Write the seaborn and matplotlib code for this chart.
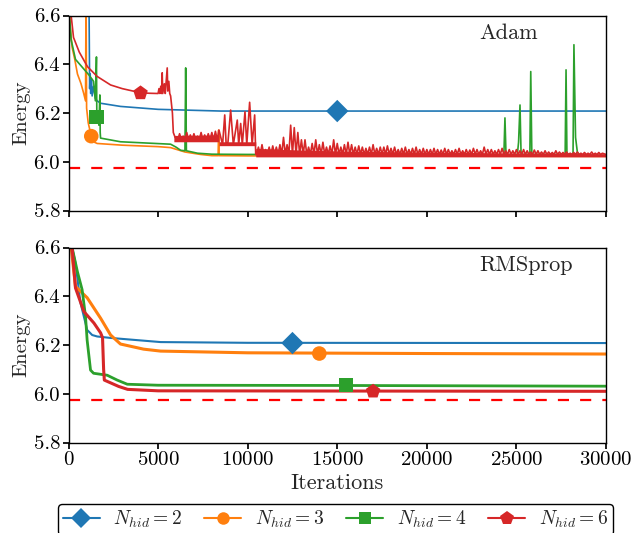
import numpy as np
import pandas as pd
import matplotlib
matplotlib.use("Agg")
import matplotlib.pyplot as plt
from matplotlib.lines import Line2D
import seaborn as sns

# ---------------- data ----------------
labels = [r"$N_{hid} = 2$", r"$N_{hid} = 3$", r"$N_{hid} = 4$", r"$N_{hid} = 6$"]
colors = ["#1f77b4", "#ff7f0e", "#2ca02c", "#d62728"]
markers = ["D", "o", "s", "p"]
exact_energy = 5.975

# Adam
adam_blue_iter = [0, 1100, 1150, 1180, 1210, 1240, 1280, 1320, 1400, 1500, 1600, 1790, 2900, 5000, 8500, 12000, 20000, 30000]
adam_blue_energy = [7.0, 6.9, 6.6, 6.30, 6.36, 6.28, 6.34, 6.27, 6.31, 6.26, 6.25, 6.24, 6.227, 6.215, 6.208, 6.208, 6.208, 6.208]

adam_orange_iter = [0, 100, 200, 350, 500, 700, 850, 950, 980, 1010, 1100, 1270, 1450, 1600, 3000, 5000, 5700, 6500, 7370, 8000, 8350, 8380, 8410, 10000, 20000, 30000]
adam_orange_energy = [6.7, 6.55, 6.47, 6.42, 6.36, 6.32, 6.28, 6.25, 6.7, 6.22, 6.16, 6.105, 6.08, 6.075, 6.068, 6.062, 6.058, 6.04, 6.03, 6.025, 6.025, 6.13, 6.025, 6.024, 6.023, 6.022]

adam_green_iter = [0, 150, 390, 1130, 1400, 1500, 1560, 1580, 1620, 1700, 1750, 1770, 1790, 2900, 5700, 6000, 6260, 6500, 6540, 6580, 7200, 8000, 10000,
                   24300, 24360, 24420, 25050, 25120, 25200, 25260, 25750, 25800, 25860, 27720, 27770, 27820, 28160, 28210, 28300, 28400, 28500, 30000]
adam_green_energy = [6.65, 6.5, 6.42, 6.357, 6.33, 6.25, 6.43, 6.20, 6.18, 6.15, 6.274, 6.12, 6.097, 6.082, 6.072, 6.06, 6.047, 6.045, 6.385, 6.045, 6.035, 6.031, 6.03,
                     6.028, 6.18, 6.028, 6.028, 6.08, 6.233, 6.03, 6.03, 6.37, 6.03, 6.03, 6.377, 6.03, 6.03, 6.48, 6.10, 6.04, 6.028, 6.025]

adam_red_iter = [0, 150, 280, 600, 1060, 1600, 2350, 3000, 4020, 4500, 4970,
                 5000, 5050, 5100, 5150, 5200, 5230, 5260, 5350, 5400, 5510, 5540, 5600, 5650, 5700,
                 5800, 5850, 5950,
                 6100, 6200, 6300, 6400, 6500, 6600, 6700, 6800, 6900, 7000, 7100, 7200, 7300, 7400,
                 7500, 7600, 7700, 7800, 7900, 8000, 8100, 8200, 8300, 8400,
                 8600, 8720, 8800, 8900, 9050, 9200, 9420, 9500, 9610, 9700, 9850, 9950, 10110, 10250, 10390, 10450]
adam_red_energy = [6.7, 6.6, 6.51, 6.45, 6.39, 6.35, 6.315, 6.30, 6.283, 6.281, 6.28,
                   6.28, 6.30, 6.28, 6.31, 6.28, 6.365, 6.28, 6.32, 6.28, 6.385, 6.29, 6.33, 6.28, 6.27,
                   6.20, 6.12, 6.10,
                   6.09, 6.115, 6.09, 6.105, 6.09, 6.12, 6.09, 6.11, 6.09, 6.115, 6.09, 6.105, 6.09, 6.12,
                   6.09, 6.11, 6.09, 6.115, 6.09, 6.12, 6.09, 6.125, 6.09, 6.13,
                   6.07, 6.192, 6.07, 6.08, 6.212, 6.07, 6.171, 6.07, 6.157, 6.07, 6.205, 6.07, 6.244, 6.07, 6.192, 6.03]
# noisy tail of the Adam N_hid = 6 run: spike tops every 200 iterations from 10600
adam_red_tail_base = 6.03
adam_red_tail_tops = [6.06, 6.07, 6.05, 6.06, 6.065, 6.06, 6.07, 6.10, 6.07, 6.15, 6.14, 6.12, 6.09,
                      6.09, 6.06, 6.075, 6.09, 6.07, 6.08, 6.06, 6.065, 6.09, 6.075, 6.06, 6.07, 6.08, 6.07, 6.06,
                      6.065, 6.06, 6.055, 6.06, 6.07, 6.055, 6.06, 6.06, 6.065, 6.055, 6.06, 6.05, 6.055, 6.06, 6.05, 6.055, 6.06, 6.05, 6.055, 6.05,
                      6.05, 6.055, 6.05, 6.048, 6.055, 6.05, 6.045, 6.05, 6.055, 6.045, 6.05, 6.048, 6.055, 6.05, 6.045, 6.06, 6.05, 6.05, 6.045, 6.05, 6.055, 6.045, 6.05, 6.045, 6.05,
                      6.045, 6.05, 6.045, 6.04, 6.048, 6.045, 6.04, 6.045, 6.04, 6.038, 6.045, 6.04, 6.038, 6.04, 6.035, 6.038, 6.04, 6.035, 6.038, 6.035, 6.04, 6.035, 6.038, 6.035]
adam_red_tail_iter = np.arange(10600, 10600 + 200 * len(adam_red_tail_tops), 200)
# dense noise band of the Adam N_hid = 6 run (lower / upper envelope)
adam_red_band_iter = [5880, 8400, 8400, 10450, 10450, 13000, 16000, 20000, 25000, 30000]
adam_red_band_low = [6.082, 6.082, 6.066, 6.066, 6.02, 6.02, 6.02, 6.02, 6.02, 6.02]
adam_red_band_high = [6.108, 6.11, 6.082, 6.082, 6.055, 6.048, 6.043, 6.04, 6.036, 6.033]

adam_marker_iter = [15000, 1270, 1560, 4020]
adam_marker_energy = [6.208, 6.105, 6.183, 6.282]

# RMSprop
rms_blue_iter = [0, 200, 380, 670, 1040, 1320, 1600, 2350, 5140, 10000, 30000]
rms_blue_energy = [6.75, 6.6, 6.54, 6.373, 6.262, 6.241, 6.235, 6.229, 6.212, 6.209, 6.208]

rms_orange_iter = [0, 150, 390, 1040, 1790, 2350, 2900, 4190, 5140, 10000, 20000, 30000]
rms_orange_energy = [6.75, 6.6, 6.44, 6.394, 6.31, 6.241, 6.204, 6.183, 6.175, 6.168, 6.165, 6.163]

rms_green_iter = [0, 200, 500, 760, 950, 1040, 1230, 1400, 2160, 2720, 3280, 5000, 15000, 30000]
rms_green_energy = [6.75, 6.6, 6.5, 6.427, 6.317, 6.22, 6.097, 6.084, 6.076, 6.056, 6.039, 6.035, 6.034, 6.031]

rms_red_iter = [0, 200, 390, 860, 1420, 1790, 1900, 1960, 2000, 2800, 3300, 5000, 30000]
rms_red_energy = [6.75, 6.6, 6.434, 6.337, 6.29, 6.25, 6.23, 6.10, 6.056, 6.03, 6.018, 6.012, 6.01]

rms_marker_iter = [12500, 14000, 15500, 17000]
rms_marker_energy = [6.208, 6.165, 6.036, 6.01]

# ---------------- assemble ----------------
tail_x, tail_y = [], []
for x, top in zip(adam_red_tail_iter, adam_red_tail_tops):
    tail_x += [x - 100, x]
    tail_y += [adam_red_tail_base, top]
tail_x.append(30000)
tail_y.append(adam_red_tail_base)

adam_series = [
    (adam_blue_iter, adam_blue_energy),
    (adam_orange_iter, adam_orange_energy),
    (adam_green_iter, adam_green_energy),
    (list(adam_red_iter) + tail_x, list(adam_red_energy) + tail_y),
]
rms_series = [
    (rms_blue_iter, rms_blue_energy),
    (rms_orange_iter, rms_orange_energy),
    (rms_green_iter, rms_green_energy),
    (rms_red_iter, rms_red_energy),
]

# ---------------- style ----------------
sns.set_theme(style="ticks")
plt.rcParams.update({
    "font.family": "serif",
    "font.serif": ["cmr10", "DejaVu Serif"],
    "mathtext.fontset": "cm",
    "axes.formatter.use_mathtext": True,
    "axes.unicode_minus": False,
    "axes.edgecolor": "black",
    "axes.linewidth": 1.0,
    "xtick.color": "black",
    "ytick.color": "black",
    "xtick.major.size": 4,
    "ytick.major.size": 4,
})

fig = plt.figure(figsize=(6.33, 5.33), dpi=100)
ax1 = fig.add_axes([68.5 / 633, (533 - 210.5) / 533, 537.5 / 633, 195 / 533])
ax2 = fig.add_axes([68.5 / 633, (533 - 442.5) / 533, 537.5 / 633, 195 / 533])

def draw(ax, series, mk_x, mk_y, lws, title, title_x):
    for i, (xs, ys) in enumerate(series):
        df = pd.DataFrame({"Iterations": xs, "Energy": ys})
        sns.lineplot(data=df, x="Iterations", y="Energy", ax=ax, color=colors[i],
                     lw=lws[i], estimator=None, sort=False, legend=False, zorder=2 + i * 0.1)
    for i in range(4):
        sns.scatterplot(x=[mk_x[i]], y=[mk_y[i]], ax=ax, color=colors[i], marker=markers[i],
                        s=[130, 110, 110, 120][i], edgecolor="none", linewidth=0, zorder=5, legend=False)
    ax.axhline(exact_energy, color="red", ls=(0, (5, 5)), lw=1.6, zorder=1)
    ax.set_xlim(0, 30000)
    ax.set_ylim(5.8, 6.6)
    ax.set_yticks([5.8, 6.0, 6.2, 6.4, 6.6])
    ax.set_yticklabels(["5.8", "6.0", "6.2", "6.4", "6.6"])
    ax.set_xticks([0, 5000, 10000, 15000, 20000, 25000, 30000])
    ax.set_ylabel("Energy", fontsize=15, labelpad=2)
    ax.tick_params(labelsize=15, pad=2)
    ax.text(title_x, 0.91, title, transform=ax.transAxes, fontsize=16, ha="left", va="center")
    for s in ax.spines.values():
        s.set_visible(True)
        s.set_color("black")

draw(ax1, adam_series, adam_marker_iter, adam_marker_energy, [1.2, 1.2, 1.2, 1.2], "Adam", 0.765)
draw(ax2, rms_series, rms_marker_iter, rms_marker_energy, [1.5, 2.2, 2.0, 2.2], "RMSprop", 0.765)

ax1.fill_between(adam_red_band_iter, adam_red_band_low, adam_red_band_high,
                 color=colors[3], lw=0, zorder=2.3)

ax1.set_xlabel("")
ax1.tick_params(labelbottom=False)
ax2.set_xlabel("Iterations", fontsize=16, labelpad=3)

handles = [Line2D([], [], color=colors[i], marker=markers[i], markersize=[10, 9, 9, 10][i],
                  lw=1.5, markeredgewidth=0) for i in range(4)]
fig.legend(handles, labels, loc="upper left", ncol=4, mode="expand",
           bbox_to_anchor=(58 / 633, 0.0545, 555 / 633, 0.0), fontsize=14,
           frameon=True, edgecolor="black", fancybox=True, framealpha=1,
           handlelength=1.9, handletextpad=0.7, borderaxespad=0, borderpad=0.25,
           columnspacing=1.0)

fig.savefig("out.png", dpi=100)
